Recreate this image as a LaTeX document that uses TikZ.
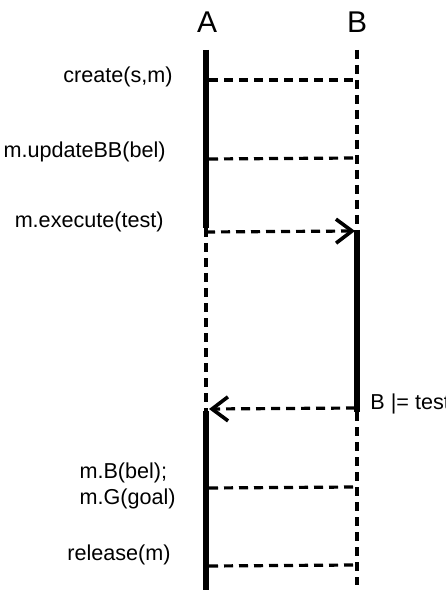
\documentclass[tikz,border=0pt]{standalone}
\usepackage{fontspec}
\setmainfont{Liberation Sans}
\usepackage{tikz}
\usetikzlibrary{arrows.meta}
\tikzstyle{actor}=[font=\fontsize{15}{18}\selectfont,inner sep=0pt]
\tikzstyle{msglabel}=[font=\fontsize{10.8}{13}\selectfont,inner sep=0pt,anchor=east]
\tikzstyle{active}=[line width=3.2pt]
\tikzstyle{life}=[line width=1.6pt,dash pattern=on 4.5pt off 3pt]
\tikzstyle{msg}=[line width=1.6pt,dash pattern=on 4.5pt off 3pt]
\tikzstyle{arrow}=[msg,-{Straight Barb[length=8pt,width=12pt,line width=1.8pt]}]
\tikzset{every picture/.style={x=0.5pt,y=-0.5pt}}

\begin{document}
\begin{tikzpicture}
      \useasboundingbox (0,0) rectangle (445,592);
      \node[actor] at (207,22) (A) {A};
      \node[actor] at (357,22) (B) {B};
      % lifelines
      \coordinate (a0) at (206,50);
      \coordinate (a1) at (206,228);
      \coordinate (a2) at (206,411);
      \coordinate (a3) at (206,590);
      \coordinate (b0) at (357,50);
      \coordinate (b1) at (357,230);
      \coordinate (b2) at (357,412);
      \coordinate (b3) at (357,585);
      \draw[active] (a0)--(a1);
      \draw[life] (a1)--(a2);
      \draw[active] (a2)--(a3);
      \draw[life] (b0)--(b1);
      \draw[active] (b1)--(b2);
      \draw[life] (b2)--(b3);
      % messages
      \coordinate (c1) at (209,80);   \coordinate (d1) at (355,80);
      \coordinate (c2) at (209,159);  \coordinate (d2) at (355,158);
      \coordinate (c3) at (206,232);  \coordinate (d3) at (355,231);
      \coordinate (c4) at (209,409);  \coordinate (d4) at (355,408);
      \coordinate (c5) at (209,488);  \coordinate (d5) at (355,487);
      \coordinate (c6) at (209,566);  \coordinate (d6) at (355,565);
      \draw[msg] (c1)--(d1);
      \draw[msg] (c2)--(d2);
      \draw[arrow] (c3)--(d3);
      \draw[arrow] (d4)--(c4);
      \draw[msg] (c5)--(d5);
      \draw[msg] (c6)--(d6);
      \node[msglabel] at (173,77) (create) {create(s,m)};
      \node[msglabel] at (166,152) (update) {m.updateBB(bel)};
      \node[msglabel] at (164,222) (exec) {m.execute(test)};
      \node[msglabel,anchor=west] at (370,404) (sat) {B |= test};
      \node[msglabel,align=left] at (176,486) (bg) {m.B(bel);\\m.G(goal)};
      \node[msglabel] at (171,555) (release) {release(m)};
    \end{tikzpicture}
\end{document}
